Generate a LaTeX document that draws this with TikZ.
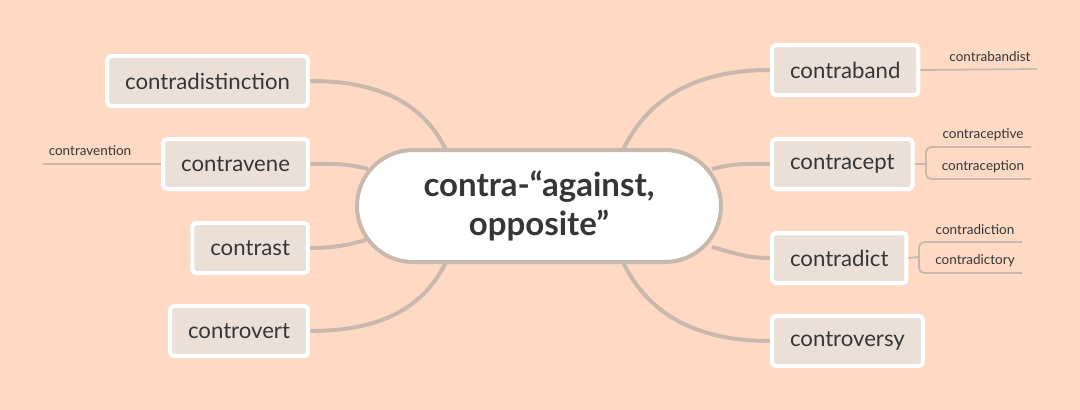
\documentclass[tikz,border=0pt]{standalone}
\usepackage{fontspec}
\setmainfont{Lato}
\usetikzlibrary{positioning}
\definecolor{peach}{HTML}{FED9C4}
\definecolor{boxfill}{HTML}{EBE0D7}
\definecolor{linkgray}{HTML}{C9B9AD}
\definecolor{ink}{HTML}{363636}
\pgfdeclarelayer{bg}
\pgfdeclarelayer{links}
\pgfsetlayers{bg,links,main}

\begin{document}
\begin{tikzpicture}[x=1pt,y=1pt,
  word/.style={draw=white,line width=4pt,fill=boxfill,rounded corners=4pt,
    minimum height=50pt,inner xsep=18pt,text=ink,
    font=\fontsize{22.2}{26}\selectfont},
  root/.style={draw=linkgray,line width=4pt,fill=white,rounded corners=56pt,
    minimum width=364pt,minimum height=112pt,align=center,text=ink,
    font=\fontsize{33}{39}\selectfont\bfseries},
  branch/.style={draw=linkgray,line width=4pt},
  twig/.style={draw=linkgray,line width=1.8pt},
  leaf/.style={text=ink,inner sep=1pt,font=\fontsize{13.5}{15}\selectfont},
]
  \useasboundingbox (0,0) rectangle (1080,-410);
  \begin{pgfonlayer}{bg}
    \fill[peach] (0,0) rectangle (1080,-410);
  \end{pgfonlayer}

  % centre
  \node[root] (root) at (539,-206) {contra-“against,\\opposite”};

  % left side
  \node[word,anchor=east] (cd) at (310,-81) {contradistinction};
  \node[word,anchor=east] (cv) at (310,-164) {contravene};
  \node[word,anchor=east] (cs) at (310,-248) {contrast};
  \node[word,anchor=east] (ct) at (310,-331) {controvert};

  % right side
  \node[word,anchor=west] (cb) at (770,-70) {contraband};
  \node[word,anchor=west] (cp) at (770,-164) {contracept};
  \node[word,anchor=west] (ci) at (770,-258) {contradict};
  \node[word,anchor=west] (cy) at (770,-341) {controversy};

  % ends inside the centre border
  \coordinate (r1) at (447,-152);
  \coordinate (r2) at (368,-169);
  \coordinate (r3) at (366,-240);
  \coordinate (r4) at (447,-260);
  \coordinate (r5) at (622,-152);
  \coordinate (r6) at (712,-169);
  \coordinate (r7) at (712,-247);
  \coordinate (r8) at (622,-260);

  \begin{pgfonlayer}{links}
    \draw[branch] (cd.east) to[out=0,in=115] (r1);
    \draw[branch] (cv.east) to[out=0,in=165] (r2);
    \draw[branch] (cs.east) to[out=0,in=195] (r3);
    \draw[branch] (ct.east) to[out=0,in=245] (r4);
    \draw[branch] (cb.west) to[out=180,in=65] (r5);
    \draw[branch] (cp.west) to[out=180,in=15] (r6);
    \draw[branch] (ci.west) to[out=180,in=-15] (r7);
    \draw[branch] (cy.west) to[out=180,in=-65] (r8);
  \end{pgfonlayer}

  % sub-words
  \coordinate (cvend) at (43,-164);
  \draw[twig] (cv.west) -- (cvend);
  \node[leaf] (cvn) at (90,-151) {contravention};

  \coordinate (cbend) at (1037,-69);
  \draw[twig] (cb.east) -- (cbend);
  \node[leaf] (cbn) at (990,-57) {contrabandist};

  \coordinate (cpfork) at (926,-164);
  \draw[twig] (cp.east) -- (cpfork);
  \draw[twig,rounded corners=5pt] (1031,-147) -- (926,-147) -- (926,-179) -- (1031,-179);
  \node[leaf] (cpa) at (983,-135) {contraceptive};
  \node[leaf] (cpb) at (983,-167) {contraception};

  \coordinate (cifork) at (919,-257);
  \draw[twig] (ci.east) -- (cifork);
  \draw[twig,rounded corners=5pt] (1022,-242) -- (919,-242) -- (919,-273) -- (1022,-273);
  \node[leaf] (cia) at (975,-230) {contradiction};
  \node[leaf] (cib) at (975,-261) {contradictory};
\end{tikzpicture}
\end{document}
